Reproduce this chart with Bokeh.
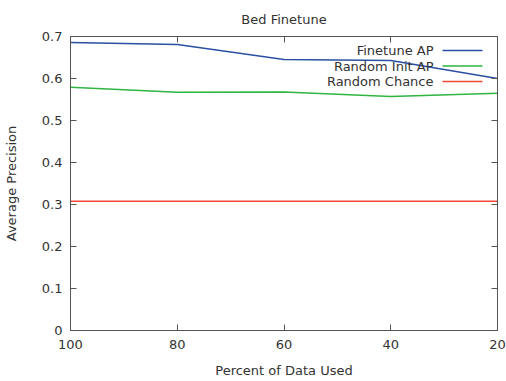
from bokeh.plotting import figure
from bokeh.models import Range1d, LinearAxis, FixedTicker, Label, BoxAnnotation, CustomJSTickFormatter
from bokeh.embed import file_html
from bokeh.resources import INLINE

percent = [100, 80, 60, 40, 20]
finetune_ap = [0.686, 0.681, 0.645, 0.643, 0.600]
random_init_ap = [0.579, 0.567, 0.568, 0.557, 0.565]
random_chance = [0.308, 0.308, 0.308, 0.308, 0.308]
series_names = ["Finetune AP", "Random Init AP", "Random Chance"]
colors = ["#2a4fa3", "#2fb540", "#ee4a36"]
x_ticks = [100, 80, 60, 40, 20]
y_ticks = [0, 0.1, 0.2, 0.3, 0.4, 0.5, 0.6, 0.7]

FONT = "DejaVu Sans"
AX = "#555555"
TXT = "#333333"
FS = "13px"

p = figure(width=506, height=381, output_backend="svg", toolbar_location=None,
           x_range=Range1d(100, 20), y_range=Range1d(0, 0.7),
           min_border_left=70, min_border_right=9, min_border_top=36, min_border_bottom=51)
p.title.text = "Bed Finetune"
p.title.align = "center"
p.title.text_font = FONT
p.title.text_font_size = FS
p.title.text_font_style = "normal"
p.title.text_color = TXT
p.title.offset = 0
p.title.standoff = 19
p.grid.visible = False
p.outline_line_color = AX
p.outline_line_width = 1
p.background_fill_color = "white"
p.border_fill_color = "white"

for ax in (p.xaxis[0], p.yaxis[0]):
    ax.major_tick_in = 6
    ax.major_tick_out = 0
    ax.minor_tick_in = 0
    ax.minor_tick_out = 0
    ax.axis_line_color = AX
    ax.major_tick_line_color = AX
    ax.major_label_text_font = FONT
    ax.major_label_text_font_size = FS
    ax.major_label_text_color = TXT
    ax.axis_label_text_font = FONT
    ax.axis_label_text_font_size = FS
    ax.axis_label_text_font_style = "normal"
    ax.axis_label_text_color = TXT

p.xaxis[0].ticker = FixedTicker(ticks=x_ticks)
p.yaxis[0].ticker = FixedTicker(ticks=y_ticks)
p.xaxis[0].axis_label = "Percent of Data Used"
p.yaxis[0].axis_label = "Average Precision"
p.xaxis[0].major_label_standoff = 9
p.yaxis[0].major_label_standoff = 8
p.xaxis[0].axis_label_standoff = 11
p.yaxis[0].axis_label_standoff = 20
p.yaxis[0].formatter.use_scientific = False

# mirrored ticks (no labels)
top = LinearAxis(ticker=FixedTicker(ticks=x_ticks), formatter=CustomJSTickFormatter(code="return '';"),
                 major_tick_in=6, major_tick_out=0, minor_tick_in=0, minor_tick_out=0,
                 axis_line_color=AX, major_tick_line_color=AX, major_label_standoff=0)
right = LinearAxis(ticker=FixedTicker(ticks=y_ticks), formatter=CustomJSTickFormatter(code="return '';"),
                   major_tick_in=6, major_tick_out=0, minor_tick_in=0, minor_tick_out=0,
                   axis_line_color=AX, major_tick_line_color=AX, major_label_standoff=0)
p.add_layout(top, "above")
p.add_layout(right, "right")

for vals, c in zip([finetune_ap, random_init_ap, random_chance], colors):
    p.line(percent, vals, line_color=c, line_width=1.5)

# gnuplot-style key: text then sample line, top right (frame-relative screen units)
for i, (name, c) in enumerate(zip(series_names, colors)):
    yy = 280 - i * 15.5
    p.add_layout(Label(x=363, y=yy, x_units="screen", y_units="screen", text=name,
                       text_font=FONT, text_font_size=FS, text_color=TXT,
                       text_align="right", text_baseline="middle"))
    p.add_layout(BoxAnnotation(left=372, right=412, bottom=yy - 0.75, top=yy + 0.75,
                               left_units="screen", right_units="screen",
                               bottom_units="screen", top_units="screen",
                               fill_color=c, fill_alpha=1, line_alpha=0))

open("out.html", "w").write(file_html(p, INLINE))
